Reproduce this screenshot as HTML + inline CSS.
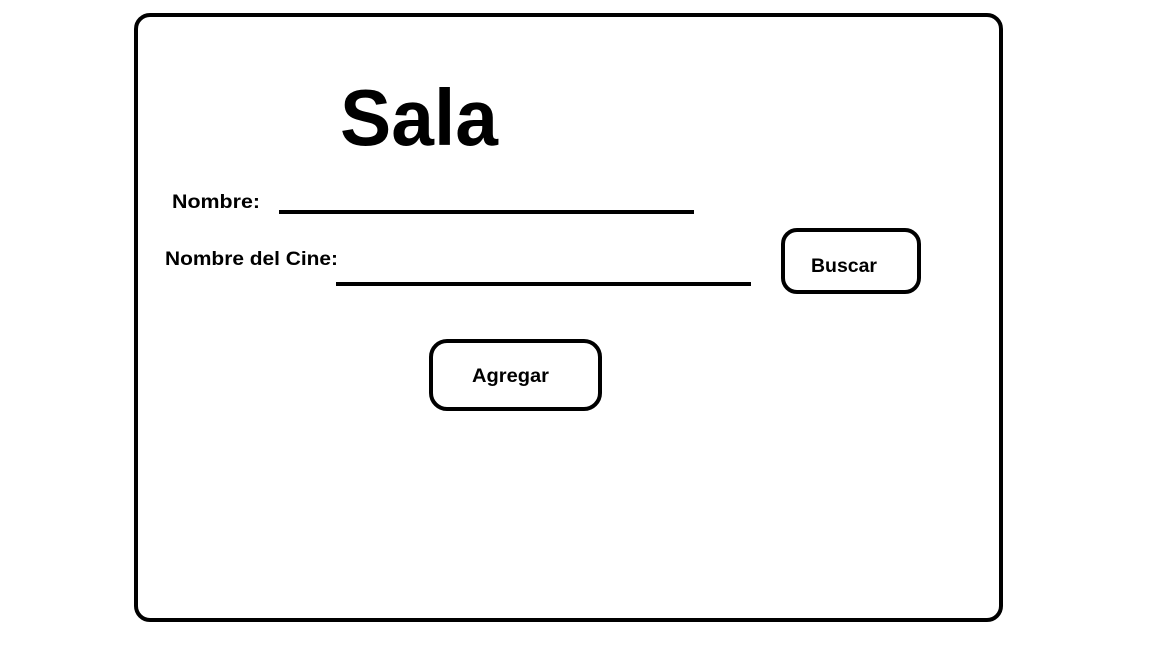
<!DOCTYPE html>
<html><head><style>
body{margin:0;width:1152px;height:648px;background:#fff;overflow:hidden;font-family:"Liberation Sans",sans-serif}
</style></head><body>
<svg width="1152" height="648" xmlns="http://www.w3.org/2000/svg">
<rect x="136" y="15" width="865" height="605" rx="14" fill="none" stroke="#000" stroke-width="4"/>
<text x="340" y="145" font-family="Liberation Sans" font-weight="bold" font-size="80" fill="#000" textLength="158" lengthAdjust="spacingAndGlyphs">Sala</text>
<text x="172" y="208" font-family="Liberation Sans" font-weight="bold" font-size="19" textLength="88" lengthAdjust="spacingAndGlyphs">Nombre:</text>
<line x1="279" y1="212" x2="694" y2="212" stroke="#000" stroke-width="4"/>
<text x="165" y="265" font-family="Liberation Sans" font-weight="bold" font-size="19" textLength="173" lengthAdjust="spacingAndGlyphs">Nombre del Cine:</text>
<line x1="336" y1="284" x2="751" y2="284" stroke="#000" stroke-width="4"/>
<rect x="783" y="230" width="136" height="62" rx="14" fill="none" stroke="#000" stroke-width="4"/>
<text x="811" y="272" font-family="Liberation Sans" font-weight="bold" font-size="19" textLength="66" lengthAdjust="spacingAndGlyphs">Buscar</text>
<rect x="431" y="341" width="169" height="68" rx="16" fill="none" stroke="#000" stroke-width="4"/>
<text x="472" y="382" font-family="Liberation Sans" font-weight="bold" font-size="19" textLength="77" lengthAdjust="spacingAndGlyphs">Agregar</text>
</svg>
</body></html>
